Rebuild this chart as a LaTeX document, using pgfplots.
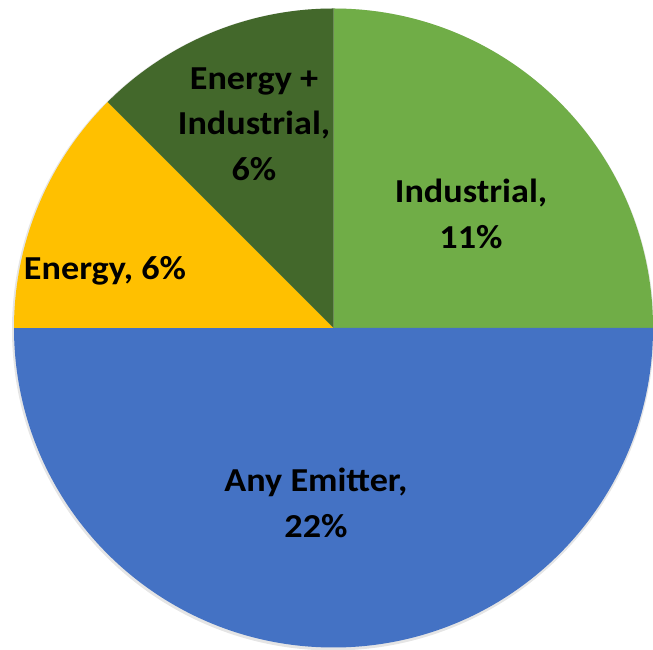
\documentclass[border=0pt]{standalone}
\usepackage{pgfplots}
\usepackage{pgfplotstable}
\pgfplotsset{compat=1.18}
\usepackage{fontspec}
\setmainfont{Carlito}[FakeStretch=1.08]

\definecolor{indgreen}{HTML}{70AD47}
\definecolor{anyblue}{HTML}{4472C4}
\definecolor{enyellow}{HTML}{FFC000}
\definecolor{eidgreen}{HTML}{43682B}

% slices clockwise from 12 o'clock
\pgfplotstableread{
value color
11    indgreen
22    anyblue
5.5   enyellow
5.5   eidgreen
}\piedata

\begin{document}
\begin{tikzpicture}
\begin{axis}[
  width=653pt, height=650pt, scale only axis,
  xmin=0, xmax=653, ymin=0, ymax=650,
  hide axis,
]
% soft shadow
\fill[black, opacity=0.10] (axis cs:333,320.5) circle[radius=321pt];
\def\startangle{90}
\pgfplotsforeachungrouped \i in {0,...,3}{
  \pgfplotstablegetelem{\i}{value}\of\piedata \let\v\pgfplotsretval
  \pgfplotstablegetelem{\i}{color}\of\piedata \let\c\pgfplotsretval
  \pgfmathsetmacro\endangle{\startangle - \v/44*360}
  \edef\temp{\noexpand\fill[fill=\c] (axis cs:333.5,322) -- ++(\startangle:319.5pt)
    arc[start angle=\startangle, end angle=\endangle, radius=319.5pt] -- cycle;}
  \temp
  \global\let\startangle\endangle
}
\begin{scope}[every node/.style={font=\fontsize{33.5}{45.5}\selectfont\bfseries, align=center, text=black}]
\node at (axis cs:471,436) {Industrial,\\11\%};
\node at (axis cs:316,147) {Any Emitter,\\22\%};
\node at (axis cs:105,379) {Energy, 6\%};
\node at (axis cs:254,526) {Energy +\\Industrial,\\6\%};
\end{scope}
\end{axis}
\pgfresetboundingbox
\useasboundingbox (0,0) rectangle (653pt,650pt);
\end{tikzpicture}
\end{document}
